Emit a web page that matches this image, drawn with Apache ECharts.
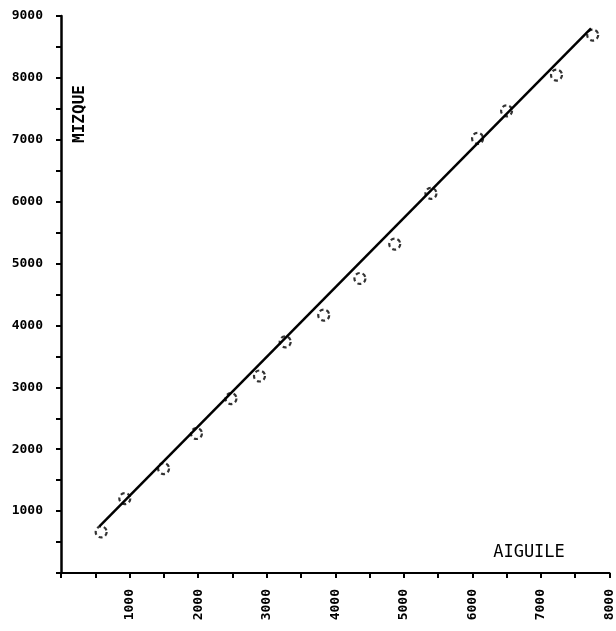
<!DOCTYPE html>
<html>
<head>
<meta charset="utf-8">
<style>
  html, body { margin: 0; padding: 0; background: #fff; }
  #chart { width: 616px; height: 631px; }
</style>
<script src="https://cdn.jsdelivr.net/npm/echarts@6/dist/echarts.min.js"></script>
</head>
<body>
<div id="chart"></div>
<script>
// Paired readings: Aiguile (x) against Mizque (y)
const aiguile = [586, 931, 1496, 1976, 2479, 2895, 3270, 3832, 4360, 4868, 5396, 6076, 6499, 7227, 7755];
const mizque  = [663, 1203, 1688, 2254, 2819, 3183, 3734, 4166, 4759, 5314, 6133, 7022, 7468, 8046, 8692];

// Fitted straight line, drawn between its two end points
const fitX = [560, 7730];
const fitY = [755, 8800];

const xTitle = 'AIGUILE';
const yTitle = 'MIZQUE';

const tickFont = {
  color: '#000',
  fontFamily: 'DejaVu Sans Mono',
  fontWeight: 'bold',
  fontSize: 13
};

const showThousands = v => (v > 0 && v % 1000 === 0) ? String(v) : '';

const chart = echarts.init(document.getElementById('chart'));
chart.setOption({
  animation: false,
  backgroundColor: '#fff',
  grid: { left: 61, right: -1, top: 16, bottom: 58 },
  xAxis: {
    type: 'value',
    min: 0, max: 8000, interval: 500,
    splitLine: { show: false },
    axisLine: { lineStyle: { color: '#000', width: 2 } },
    axisTick: { length: 5, lineStyle: { color: '#000', width: 2 } },
    axisLabel: Object.assign({ rotate: 90, margin: 16, formatter: showThousands }, tickFont)
  },
  yAxis: {
    type: 'value',
    min: 0, max: 9000, interval: 500,
    splitLine: { show: false },
    axisLine: { show: true, lineStyle: { color: '#000', width: 2.5 } },
    axisTick: { show: true, length: 5, lineStyle: { color: '#000', width: 2 } },
    axisLabel: Object.assign({ margin: 18, formatter: showThousands }, tickFont)
  },
  graphic: [
    {
      type: 'text',
      x: 80, y: 114,
      rotation: Math.PI / 2,
      style: {
        text: yTitle,
        fill: '#000',
        font: 'bold 16px "DejaVu Sans Mono"',
        align: 'center',
        verticalAlign: 'middle'
      }
    },
    {
      type: 'text',
      x: 529, y: 553,
      style: {
        text: xTitle,
        fill: '#000',
        font: '17px "DejaVu Sans Mono"',
        align: 'center',
        verticalAlign: 'middle'
      }
    }
  ],
  series: [
    {
      type: 'line',
      data: fitX.map((x, i) => [x, fitY[i]]),
      symbol: 'none',
      lineStyle: { color: '#000', width: 2.5 },
      z: 2
    },
    {
      type: 'scatter',
      data: aiguile.map((x, i) => [x, mizque[i]]),
      symbol: 'circle',
      symbolSize: 11,
      itemStyle: {
        color: 'rgba(0,0,0,0)',
        borderColor: '#000',
        borderWidth: 2.2,
        borderType: [4, 3]
      },
      z: 3
    }
  ]
});
</script>
</body>
</html>
